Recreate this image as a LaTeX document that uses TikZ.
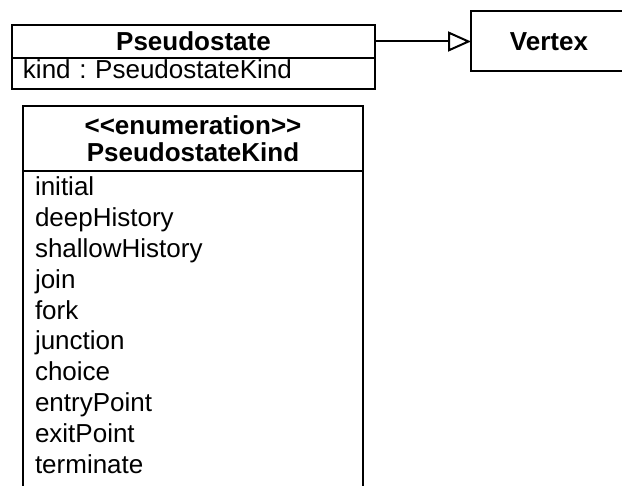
\documentclass[tikz,border=0pt]{standalone}
\usepackage{fontspec}
\setmainfont{Liberation Sans}
\usetikzlibrary{arrows.meta}
\usetikzlibrary{positioning}
\frenchspacing

\begin{document}
\begin{tikzpicture}[
    x=1pt, y=-1pt,
    line width=2pt,
every node/.style = {outer sep=0pt, font=\fontsize{26}{30.8}\selectfont},
    box/.style    = {draw, rectangle, inner sep=0pt},
    title/.style  = {box, align=center, font=\bfseries\fontsize{26}{27}\selectfont}]
\useasboundingbox (0,0) rectangle (622,486);

% class Pseudostate
\node[title, minimum width=363pt, minimum height=33pt] (pshead) at (193.5,41.5) {Pseudostate};
\node[box, below=0pt of pshead, minimum width=363pt, minimum height=31pt,
      text width=341pt, align=left, text height=19pt, text depth=8pt] (psattr)
      {kind : PseudostateKind};

% class Vertex
\node[title, minimum width=156pt, minimum height=60pt] (vertex) at (549,41.5) {Vertex};

% generalization
\draw[-{Triangle[open,length=23pt,width=20pt]}] (pshead) -- (vertex);

% enumeration PseudostateKind
\node[title, minimum width=340pt, minimum height=65pt] (enumhead) at (193,138.5)
      {<\kern0pt<enumeration>\kern0pt>\\PseudostateKind};
\node[box, below=0pt of enumhead, minimum width=340pt, minimum height=330pt] (enumbody) {};
\node[anchor=north west, inner xsep=12pt, inner ysep=6pt, align=left] (literals)
      at (enumbody.north west)
      {initial\\deepHistory\\shallowHistory\\join\\fork\\junction\\choice\\entryPoint\\exitPoint\\terminate};

%\node[below=of enumbody] {...};
\end{tikzpicture}
\end{document}
